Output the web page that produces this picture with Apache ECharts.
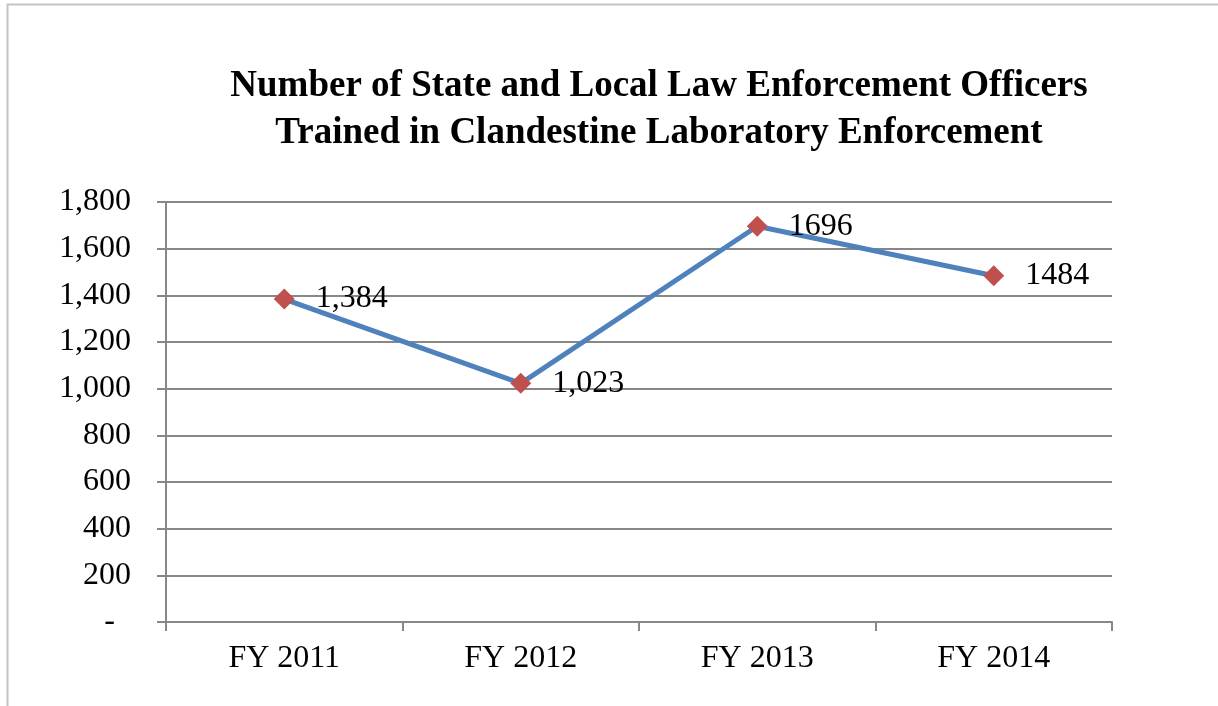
<!DOCTYPE html>
<html>
<head>
<meta charset="utf-8">
<style>
  html, body { margin: 0; padding: 0; background: #fff; }
  #chart { width: 1218px; height: 706px; }
</style>
<script src="https://cdn.jsdelivr.net/npm/echarts@6/dist/echarts.min.js"></script>
</head>
<body>
<div id="chart"></div>
<script>
// Officers trained per fiscal year
const categories = ['FY 2011', 'FY 2012', 'FY 2013', 'FY 2014'];
const officersTrained = [1384, 1023, 1696, 1484];
const pointLabels = ['1,384', '1,023', '1696', '1484'];
const yTickLabels = ['-', '200', '400', '600', '800', '1,000', '1,200', '1,400', '1,600', '1,800'];

const serif = '"Liberation Serif", "Times New Roman", serif';
const gridGray = '#878787';

const chart = echarts.init(document.getElementById('chart'));
chart.setOption({
  backgroundColor: '#ffffff',
  animation: false,
  graphic: [{
    type: 'rect',
    shape: { x: 7.5, y: 4.5, width: 1400, height: 900 },
    style: { fill: 'none', stroke: '#c4c4c4', lineWidth: 2 },
    silent: true
  }],
  title: {
    text: 'Number of State and Local Law Enforcement Officers\nTrained in Clandestine Laboratory Enforcement',
    left: 654,
    top: 58,
    textAlign: 'center',
    textStyle: {
      fontFamily: serif,
      fontWeight: 'bold',
      fontSize: 37,
      lineHeight: 47,
      color: '#000'
    }
  },
  grid: { left: 166, right: 106, top: 202, bottom: 84, containLabel: false },
  xAxis: {
    type: 'category',
    data: categories,
    boundaryGap: true,
    axisLine: { lineStyle: { color: gridGray, width: 2 } },
    axisTick: { show: true, length: 9, alignWithLabel: false, lineStyle: { color: gridGray, width: 2 } },
    axisLabel: { margin: 21, fontFamily: serif, fontSize: 32, color: '#000' }
  },
  yAxis: {
    type: 'value',
    min: 0,
    max: 1800,
    interval: 200,
    axisLine: { show: true, lineStyle: { color: gridGray, width: 2 } },
    axisTick: { show: true, length: 9, lineStyle: { color: gridGray, width: 2 } },
    splitLine: { show: true, lineStyle: { color: gridGray, width: 2 } },
    axisLabel: {
      margin: 35,
      fontFamily: serif,
      fontSize: 32,
      color: '#000',
      formatter: function (v) {
        const label = yTickLabels[Math.round(v / 200)];
        return label === '-' ? '-  ' : label;
      }
    }
  },
  series: [{
    type: 'line',
    data: officersTrained,
    symbol: 'diamond',
    symbolSize: 21,
    lineStyle: { color: '#4f81bd', width: 5 },
    itemStyle: { color: '#c0504d' },
    label: {
      show: true,
      position: 'right',
      distance: 21,
      fontFamily: serif,
      fontSize: 32,
      color: '#000',
      formatter: function (p) { return pointLabels[p.dataIndex]; }
    },
    z: 3
  }]
});
</script>
</body>
</html>
